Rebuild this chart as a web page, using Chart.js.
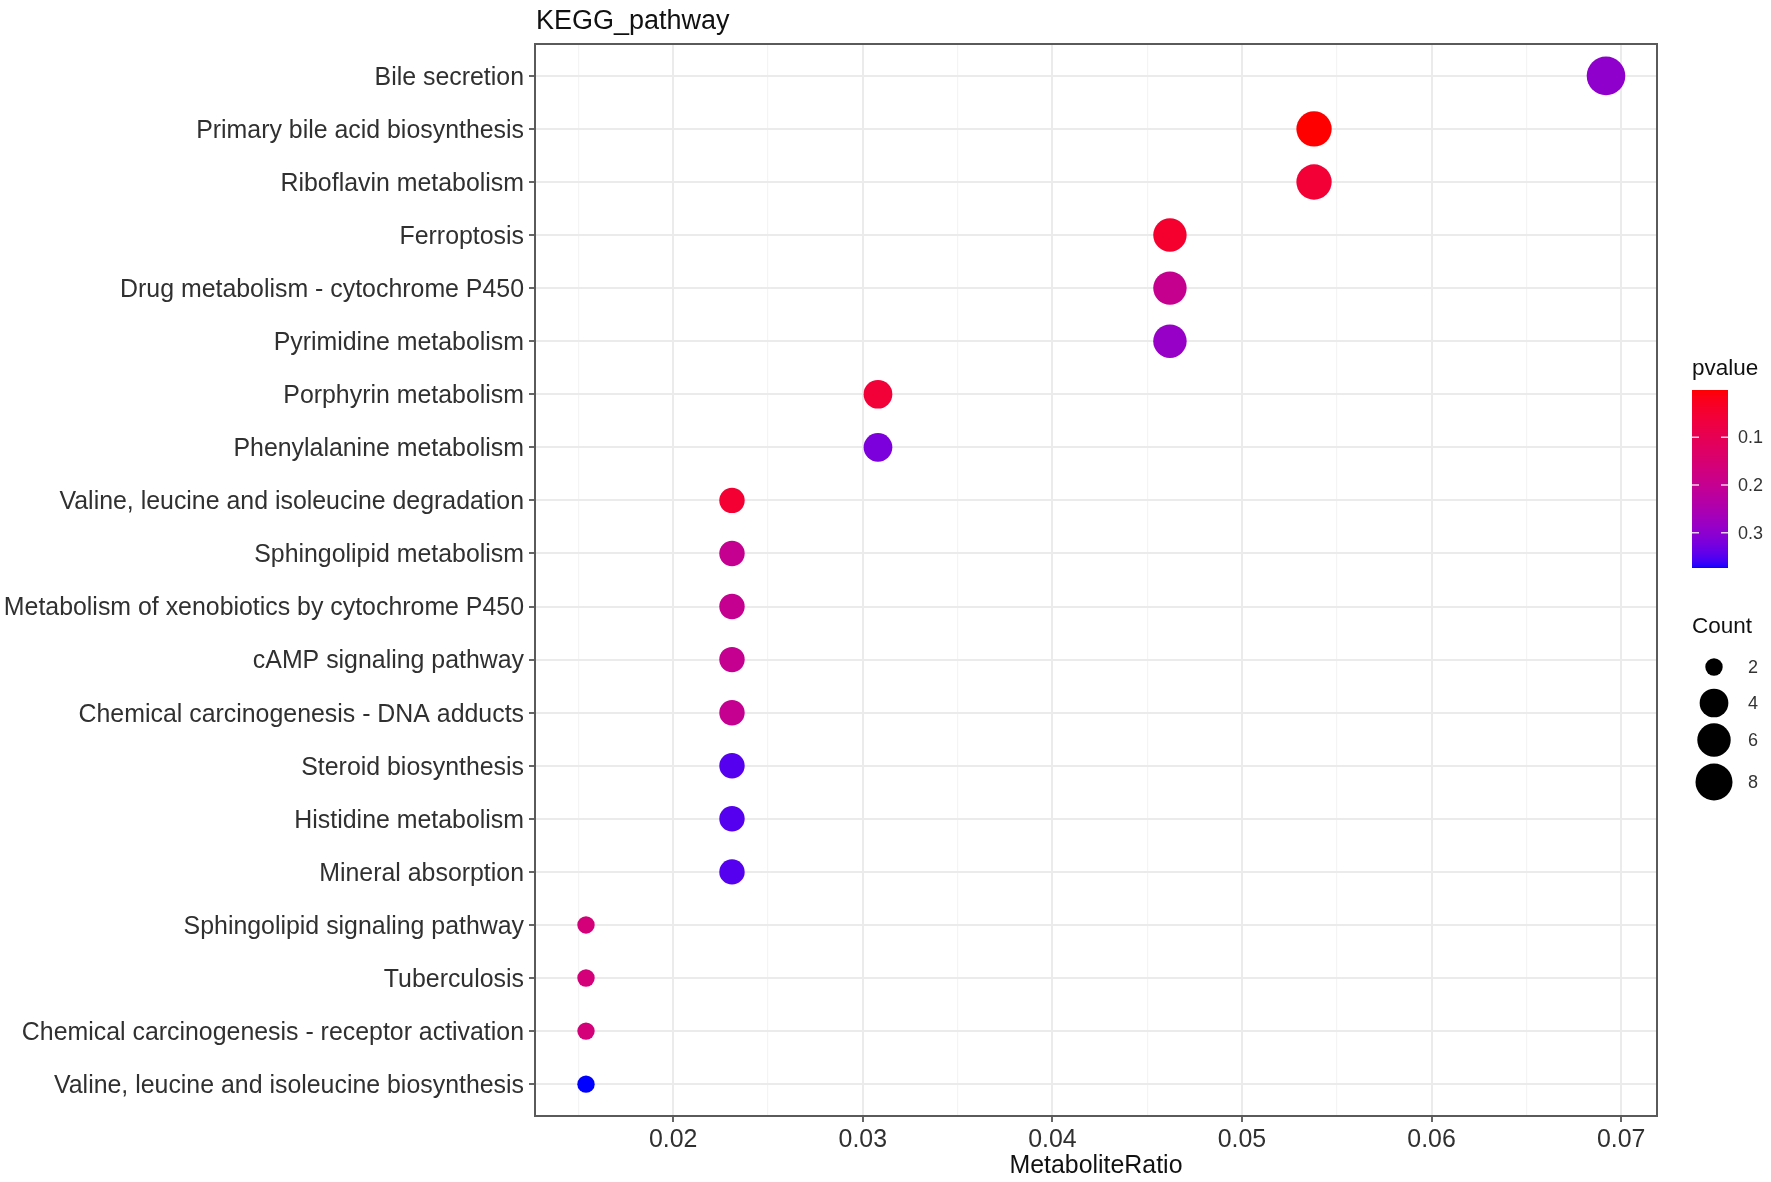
<!DOCTYPE html>
<html><head><meta charset="utf-8">
<script src="https://cdn.jsdelivr.net/npm/chart.js@4.4.1/dist/chart.umd.min.js"></script>
<style>html,body{margin:0;padding:0;background:#fff;}canvas{display:block;}</style>
</head><body>
<canvas id="c" width="1771" height="1182"></canvas>
<script>
// ---------------- data ----------------
const chartTitle = "KEGG_pathway";
const xAxisTitle = "MetaboliteRatio";
const pathways = [
  "Bile secretion",
  "Primary bile acid biosynthesis",
  "Riboflavin metabolism",
  "Ferroptosis",
  "Drug metabolism - cytochrome P450",
  "Pyrimidine metabolism",
  "Porphyrin metabolism",
  "Phenylalanine metabolism",
  "Valine, leucine and isoleucine degradation",
  "Sphingolipid metabolism",
  "Metabolism of xenobiotics by cytochrome P450",
  "cAMP signaling pathway",
  "Chemical carcinogenesis - DNA adducts",
  "Steroid biosynthesis",
  "Histidine metabolism",
  "Mineral absorption",
  "Sphingolipid signaling pathway",
  "Tuberculosis",
  "Chemical carcinogenesis - receptor activation",
  "Valine, leucine and isoleucine biosynthesis"
];
const metaboliteRatio = [0.0692, 0.0538, 0.0538, 0.0462, 0.0462, 0.0462, 0.0308, 0.0308,
  0.0231, 0.0231, 0.0231, 0.0231, 0.0231, 0.0231, 0.0231, 0.0231,
  0.0154, 0.0154, 0.0154, 0.0154];
const counts = [9, 7, 7, 6, 6, 6, 4, 4, 3, 3, 3, 3, 3, 3, 3, 3, 2, 2, 2, 2];
const pvalues = [0.297, 0.001, 0.055, 0.043, 0.198, 0.286, 0.058, 0.320,
  0.050, 0.200, 0.200, 0.200, 0.200, 0.350, 0.350, 0.350,
  0.163, 0.163, 0.163, 0.374];
const xMajorTicks = [0.02, 0.03, 0.04, 0.05, 0.06, 0.07];
const xMinorTicks = [0.015, 0.025, 0.035, 0.045, 0.055, 0.065];
const pvalueLegendTicks = [0.1, 0.2, 0.3];
const countLegendTicks = [2, 4, 6, 8];

// ---------------- helpers ----------------
const FONT = "'Liberation Sans', Arial, Helvetica, sans-serif";
function s2l(c){c/=255;return c<=0.04045?c/12.92:Math.pow((c+0.055)/1.055,2.4);}
function l2s(v){v=Math.max(0,Math.min(1,v));const s=v<=0.0031308?12.92*v:1.055*Math.pow(v,1/2.4)-0.055;return Math.round(Math.max(0,Math.min(1,s))*255);}
const Xn=0.95047,Yn=1,Zn=1.08883;
function f(t){return t>0.008856?Math.cbrt(t):7.787*t+16/116;}
function fi(t){const t3=t*t*t;return t3>0.008856?t3:(t-16/116)/7.787;}
function rgb2lab(r,g,b){
  const R=s2l(r),G=s2l(g),B=s2l(b);
  const X=0.4124*R+0.3576*G+0.1805*B, Y=0.2126*R+0.7152*G+0.0722*B, Z=0.0193*R+0.1192*G+0.9505*B;
  const fx=f(X/Xn),fy=f(Y/Yn),fz=f(Z/Zn);
  return [116*fy-16,500*(fx-fy),200*(fy-fz)];
}
function lab2rgb(L,a,b){
  const fy=(L+16)/116,fx=fy+a/500,fz=fy-b/200;
  const X=Xn*fi(fx),Y=Yn*fi(fy),Z=Zn*fi(fz);
  const R=3.2406*X-1.5372*Y-0.4986*Z, G=-0.9689*X+1.8758*Y+0.0415*Z, B=0.0557*X-0.2040*Y+1.0570*Z;
  return [l2s(R),l2s(G),l2s(B)];
}
const LOW=rgb2lab(255,0,0), HIGH=rgb2lab(0,0,255);
const pMin=Math.min(...pvalues), pMax=Math.max(...pvalues);
function colorFor(p){
  const t=Math.max(0,Math.min(1,(p-pMin)/(pMax-pMin)));
  const c=lab2rgb(LOW[0]+(HIGH[0]-LOW[0])*t,LOW[1]+(HIGH[1]-LOW[1])*t,LOW[2]+(HIGH[2]-LOW[2])*t);
  return `rgb(${c[0]},${c[1]},${c[2]})`;
}
const cMin=Math.min(...counts), cMax=Math.max(...counts);
function radiusFor(c){return 8.7+10.6*Math.sqrt((c-cMin)/(cMax-cMin));}
const xDataMin=Math.min(...metaboliteRatio), xDataMax=Math.max(...metaboliteRatio);
const xPad=(xDataMax-xDataMin)*0.05;

// ---------------- plugin: border, title, legends ----------------
const decor={
  id:'decor',
  afterDraw(chart){
    const ctx=chart.ctx, a=chart.chartArea;
    ctx.save();
    // panel border
    ctx.strokeStyle='#5a5a5a'; ctx.lineWidth=2;
    ctx.strokeRect(a.left,a.top,a.right-a.left,a.bottom-a.top);
    // title
    ctx.fillStyle='#111'; ctx.font=`27px ${FONT}`; ctx.textAlign='left'; ctx.textBaseline='alphabetic';
    ctx.fillText(chartTitle,a.left+1,29);
    // pvalue legend
    const bx=1692,bw=36,by0=390,by1=568;
    ctx.font=`22.5px ${FONT}`; ctx.fillStyle='#111'; ctx.textBaseline='middle';
    ctx.fillText('pvalue',bx,369);
    for(let y=by0;y<by1;y++){
      const p=pMin+(y+0.5-by0)/(by1-by0)*(pMax-pMin);
      ctx.fillStyle=colorFor(p); ctx.fillRect(bx,y,bw,1);
    }
    ctx.font=`18px ${FONT}`;
    pvalueLegendTicks.forEach(v=>{
      const y=by0+(v-pMin)/(pMax-pMin)*(by1-by0);
      ctx.strokeStyle='rgba(255,255,255,0.8)'; ctx.lineWidth=1.5;
      ctx.beginPath(); ctx.moveTo(bx,y); ctx.lineTo(bx+7,y); ctx.moveTo(bx+bw-7,y); ctx.lineTo(bx+bw,y); ctx.stroke();
      ctx.fillStyle='#333'; ctx.fillText(v.toFixed(1),1738,y+1);
    });
    // count legend
    ctx.font=`22.5px ${FONT}`; ctx.fillStyle='#111';
    ctx.fillText('Count',1692,627);
    const cy=[667,703,740,782];
    ctx.font=`18px ${FONT}`;
    countLegendTicks.forEach((c,i)=>{
      ctx.fillStyle='#000'; ctx.beginPath(); ctx.arc(1714,cy[i],radiusFor(c),0,Math.PI*2); ctx.fill();
      ctx.fillStyle='#333'; ctx.fillText(String(c),1748,cy[i]+1);
    });
    ctx.restore();
  }
};

const isMajor=v=>xMajorTicks.some(m=>Math.abs(m-v)<1e-9);

new Chart(document.getElementById('c'),{
  type:'scatter',
  data:{datasets:[{
    data:pathways.map((p,i)=>({x:metaboliteRatio[i],y:i})),
    pointRadius:counts.map(radiusFor),
    pointHoverRadius:counts.map(radiusFor),
    pointBackgroundColor:pvalues.map(colorFor),
    pointBorderWidth:0,
    pointBorderColor:'rgba(0,0,0,0)'
  }]},
  options:{
    responsive:false, animation:false, devicePixelRatio:1,
    layout:{padding:{left:0,right:114,top:44,bottom:0}},
    plugins:{legend:{display:false},tooltip:{enabled:false}},
    scales:{
      x:{
        type:'linear', min:xDataMin-xPad, max:xDataMax+xPad,
        afterBuildTicks:s=>{s.ticks=[...xMinorTicks,...xMajorTicks].sort((a,b)=>a-b).map(v=>({value:v}));},
        afterFit:s=>{s.height=66;},
        border:{display:false},
        grid:{
          color:c=>isMajor(c.tick.value)?'#EBEBEB':'#F4F4F4',
          lineWidth:c=>isMajor(c.tick.value)?2:1.2,
          tickColor:c=>isMajor(c.tick.value)?'#333':'rgba(0,0,0,0)',
          tickLength:6, tickWidth:1.5
        },
        ticks:{autoSkip:false,maxRotation:0,padding:3,color:'#303030',font:{family:FONT,size:24.9},
          callback:v=>isMajor(v)?v.toFixed(2):''},
        title:{display:true,text:xAxisTitle,color:'#111',font:{family:FONT,size:24.9},padding:{top:0,bottom:1}}
      },
      y:{
        type:'linear', reverse:true, min:-0.6, max:pathways.length-1+0.6,
        afterBuildTicks:s=>{s.ticks=pathways.map((p,i)=>({value:i}));},
        afterFit:s=>{s.width=535;},
        border:{display:false},
        grid:{color:'#EBEBEB',lineWidth:2,tickColor:'#333',tickLength:6,tickWidth:1.5},
        ticks:{autoSkip:false,padding:5,labelOffset:2,color:'#303030',font:{family:FONT,size:24.9},
          callback:v=>pathways[v]}
      }
    }
  },
  plugins:[decor]
});
</script>
</body></html>
